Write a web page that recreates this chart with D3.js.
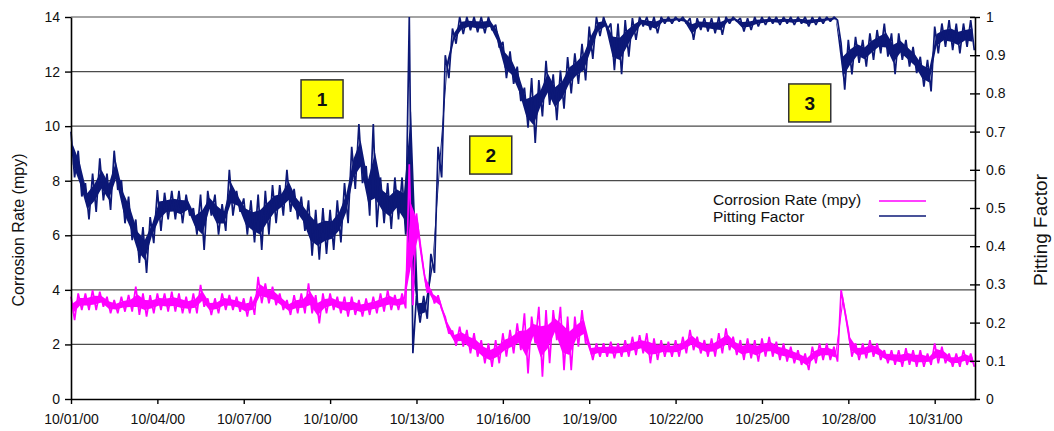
<!DOCTYPE html>
<html>
<head>
<meta charset="utf-8">
<script src="https://cdn.jsdelivr.net/npm/d3@7"></script>
<style>
  body { margin: 0; background: #fff; }
  text { font-family: Arial, "Liberation Sans", sans-serif; }
</style>
</head>
<body>
<svg id="chart" width="1054" height="431"></svg>
<script>
// Monitoring period: October 2000, one sample pair (high / low reading) every 6 hours.
const startDate = new Date(2000, 9, 1);
const spanDays = 31.4;
const sampleStepDays = 0.25;

const tickLabels = ["10/01/00", "10/04/00", "10/07/00", "10/10/00", "10/13/00", "10/16/00",
                    "10/19/00", "10/22/00", "10/25/00", "10/28/00", "10/31/00"];
const rateTicks = [0, 2, 4, 6, 8, 10, 12, 14];
const pittingTicks = [0, 0.1, 0.2, 0.3, 0.4, 0.5, 0.6, 0.7, 0.8, 0.9, 1];

// Corrosion rate (mpy), upper and lower reading per 6-hour window
const corrosionHigh = [
  3.75,3.87,3.87,3.99,3.93,3.75,3.63,3.75,3.81,4.12,3.87,3.81,
  3.87,3.87,3.93,3.87,3.75,3.87,4.18,3.69,3.69,3.87,3.81,3.75,
  3.69,3.75,4.48,4.24,4.12,3.87,3.63,3.81,3.87,4.24,3.81,3.87,
  3.87,3.75,3.75,3.75,3.63,3.69,3.75,3.87,3.99,3.81,3.87,8.6,
  6.8,4.7,4.0,3.8,3.0,2.5,2.65,2.53,2.41,2.16,2.04,2.16,
  2.41,2.53,2.77,3.14,3.02,3.38,3.26,3.26,3.38,3.02,3.02,3.26,
  2.04,2.04,2.04,2.10,2.04,2.16,2.28,2.34,2.41,2.22,2.16,2.10,
  2.16,2.28,2.53,2.28,2.16,2.22,2.41,2.59,2.28,2.16,2.22,2.16,
  2.22,2.28,2.10,2.04,1.92,1.79,1.67,1.92,2.04,2.04,1.92,3.99,
  2.53,2.04,2.04,2.16,2.04,1.79,1.79,1.79,1.86,1.79,1.79,1.67,
  2.04,1.92,1.67,1.67,1.79,1.67
];
const corrosionLow = [
  2.89,3.26,3.26,3.26,3.38,3.14,3.14,3.20,3.20,3.08,3.02,3.14,
  3.26,3.20,3.20,3.14,3.14,3.14,3.38,3.08,3.14,3.26,3.26,3.20,
  3.02,3.08,3.51,3.51,3.44,3.26,3.08,3.14,3.14,3.14,2.77,3.14,
  3.26,3.14,3.02,3.08,3.02,3.08,3.14,3.20,3.26,3.26,3.32,3.44,
  5.6,3.9,3.5,3.3,2.4,1.95,1.92,1.67,1.55,1.31,1.18,1.31,
  1.55,1.67,1.79,0.94,2.04,0.82,1.31,2.16,1.06,1.06,1.92,2.04,
  1.43,1.55,1.55,1.49,1.55,1.55,1.61,1.67,1.31,1.43,1.55,1.55,
  1.55,1.67,1.79,1.67,1.55,1.55,1.67,1.79,1.61,1.43,1.49,1.37,
  1.55,1.55,1.43,1.37,1.31,1.25,1.06,1.31,1.43,1.43,1.37,3.26,
  1.55,1.43,1.49,1.55,1.43,1.31,1.25,1.18,1.25,1.18,1.18,1.25,
  1.31,1.31,1.18,1.18,1.25,1.18
];

// Pitting factor (0-1), upper and lower reading per 6-hour window
const pittingHigh = [
  0.70,0.65,0.565,0.59,0.63,0.59,0.65,0.573,0.53,0.47,0.45,0.476,
  0.547,0.54,0.545,0.545,0.535,0.50,0.535,0.545,0.535,0.51,0.60,0.545,
  0.525,0.52,0.535,0.545,0.56,0.56,0.60,0.55,0.53,0.52,0.495,0.50,
  0.495,0.52,0.565,0.66,0.72,0.61,0.72,0.58,0.565,0.58,0.58,1.0,
  0.27,0.27,0.38,0.66,0.90,0.97,1.0,1.0,1.0,1.0,1.0,0.98,
  0.935,0.91,0.87,0.815,0.84,0.835,0.885,0.85,0.86,0.895,0.905,0.93,
  0.975,1.0,1.0,0.983,0.983,0.992,0.997,1.0,1.0,1.0,1.0,1.0,
  1.0,1.0,0.997,0.997,0.997,0.997,1.0,1.0,1.0,0.997,0.997,1.0,
  1.0,1.0,1.0,1.0,1.0,1.0,1.0,1.0,1.0,1.0,1.0,0.93,
  0.94,0.948,0.94,0.957,0.966,0.983,0.957,0.957,0.94,0.922,0.896,0.888,
  0.975,0.983,0.992,0.983,0.983,0.992
];
const pittingLow = [
  0.58,0.53,0.47,0.49,0.52,0.495,0.547,0.46,0.416,0.356,0.33,0.408,
  0.44,0.47,0.47,0.46,0.48,0.43,0.39,0.48,0.43,0.44,0.48,0.49,
  0.43,0.41,0.39,0.43,0.46,0.48,0.49,0.47,0.44,0.375,0.365,0.38,
  0.39,0.41,0.46,0.55,0.565,0.48,0.45,0.46,0.445,0.47,0.43,0.12,
  0.20,0.21,0.33,0.58,0.84,0.93,0.955,0.965,0.96,0.957,0.965,0.92,
  0.84,0.825,0.78,0.71,0.67,0.74,0.77,0.73,0.76,0.80,0.825,0.834,
  0.89,0.95,0.966,0.861,0.85,0.896,0.94,0.975,0.966,0.957,0.983,0.983,
  0.988,0.983,0.94,0.966,0.962,0.957,0.953,0.983,0.988,0.962,0.966,0.975,
  0.979,0.983,0.979,0.983,0.979,0.983,0.975,0.979,0.983,0.988,0.992,0.81,
  0.85,0.88,0.87,0.888,0.905,0.896,0.85,0.888,0.87,0.853,0.818,0.805,
  0.905,0.922,0.913,0.905,0.922,0.913
];

// Numbered event markers (day offset, corrosion-rate height)
const noteLabels = ["1", "2", "3"];
const noteDays = [8.72, 14.58, 25.66];
const noteRates = [11.0, 8.94, 10.85];

const seriesNames = ["Corrosion Rate (mpy)", "Pitting Factor"];
const seriesColors = ["#ff00ff", "#0c1877"];

// ---------------------------------------------------------------------------
const DAY = 864e5;
const dayToDate = d => new Date(startDate.getTime() + d * DAY);
const margin = { left: 71, right: 975, top: 17, bottom: 399 };

const svg = d3.select("#chart");
const x = d3.scaleTime().domain([startDate, dayToDate(spanDays)]).range([margin.left, margin.right]);
const yRate = d3.scaleLinear().domain([0, 14]).range([margin.bottom, margin.top]);
const yPit = d3.scaleLinear().domain([0, 1]).range([margin.bottom, margin.top]);

// horizontal gridlines
svg.append("g").selectAll("line").data(rateTicks.slice(1)).join("line")
  .attr("x1", margin.left).attr("x2", margin.right)
  .attr("y1", d => yRate(d)).attr("y2", d => yRate(d))
  .attr("stroke", "#4a4a4a").attr("stroke-width", 1.2);

// each reading window: a dense core band inside the window's range,
// with a high/low trace over it so the extremes show as spikes
function windows(high, low) {
  return high.map((h, i) => ({ t: i * sampleStepDays, hi: h, lo: low[i] }));
}
function zigzag(rows) {
  const pts = [];
  rows.forEach(r => {
    pts.push([r.t, r.hi]);
    pts.push([r.t + sampleStepDays / 2, r.lo]);
  });
  return pts;
}

const coreShare = 0.28; // part of each window's range trimmed from both edges of the core band

function drawSeries(rows, yScale, color) {
  const g = svg.append("g");
  g.append("path").datum(rows)
    .attr("fill", color).attr("stroke", "none")
    .attr("d", d3.area()
      .x(r => x(dayToDate(r.t + sampleStepDays / 4)))
      .y0(r => yScale(r.lo + (r.hi - r.lo) * coreShare))
      .y1(r => yScale(r.hi - (r.hi - r.lo) * coreShare)));
  g.append("path").datum(zigzag(rows))
    .attr("fill", "none").attr("stroke", color).attr("stroke-width", 1.7)
    .attr("stroke-linejoin", "bevel")
    .attr("d", d3.line().x(p => x(dayToDate(p[0]))).y(p => yScale(p[1])));
}

drawSeries(windows(pittingHigh, pittingLow), yPit, seriesColors[1]);
drawSeries(windows(corrosionHigh, corrosionLow), yRate, seriesColors[0]);

// axes
const parseTick = d3.timeParse("%m/%d/%y");
const tickDates = tickLabels.map(parseTick);

const xAxis = svg.append("g").attr("transform", `translate(0,${margin.bottom})`)
  .call(d3.axisBottom(x).tickValues(tickDates).tickFormat(d3.timeFormat("%m/%d/%y"))
    .tickSize(5).tickSizeOuter(0).tickPadding(10));

const leftAxis = svg.append("g").attr("transform", `translate(${margin.left},0)`)
  .call(d3.axisLeft(yRate).tickValues(rateTicks).tickSize(6).tickSizeOuter(0).tickPadding(5));

const rightAxis = svg.append("g").attr("transform", `translate(${margin.right},0)`)
  .call(d3.axisRight(yPit).tickValues(pittingTicks).tickFormat(d3.format("~g"))
    .tickSize(5).tickSizeOuter(0).tickPadding(6));
rightAxis.selectAll(".tick line").attr("x1", -5);

[xAxis, leftAxis, rightAxis].forEach(g => {
  g.select(".domain").attr("stroke", "#000").attr("stroke-width", 1.6);
  g.selectAll(".tick line").attr("stroke", "#000").attr("stroke-width", 1.4);
  g.selectAll(".tick text").attr("fill", "#111").style("font-size", "14px");
});

// axis titles
svg.append("text")
  .attr("transform", "translate(24,230) rotate(-90)")
  .attr("text-anchor", "middle").style("font-size", "16px").attr("fill", "#111")
  .text("Corrosion Rate (mpy)");
svg.append("text")
  .attr("transform", "translate(1047,230) rotate(-90)")
  .attr("text-anchor", "middle").style("font-size", "19px").attr("fill", "#111")
  .text("Pitting Factor");

// legend
const legend = svg.append("g").attr("transform", "translate(713,205)");
seriesNames.forEach((name, i) => {
  const row = legend.append("g").attr("transform", `translate(0,${i * 17})`);
  row.append("text").text(name).style("font-size", "15.5px").attr("fill", "#111");
  row.append("line").attr("x1", 166).attr("x2", 213).attr("y1", -4 + i * -2).attr("y2", -4 + i * -2)
    .attr("stroke", seriesColors[i]).attr("stroke-width", 1.3);
});

// event markers
const notes = svg.append("g");
noteLabels.forEach((label, i) => {
  const cx = x(dayToDate(noteDays[i])), cy = yRate(noteRates[i]);
  notes.append("rect").attr("x", cx - 21).attr("y", cy - 19).attr("width", 42).attr("height", 38)
    .attr("fill", "#ffff00").attr("stroke", "#333").attr("stroke-width", 1.5);
  notes.append("text").attr("x", cx).attr("y", cy + 7).attr("text-anchor", "middle")
    .style("font-size", "19px").style("font-weight", "bold").attr("fill", "#111").text(label);
});
</script>
</body>
</html>
